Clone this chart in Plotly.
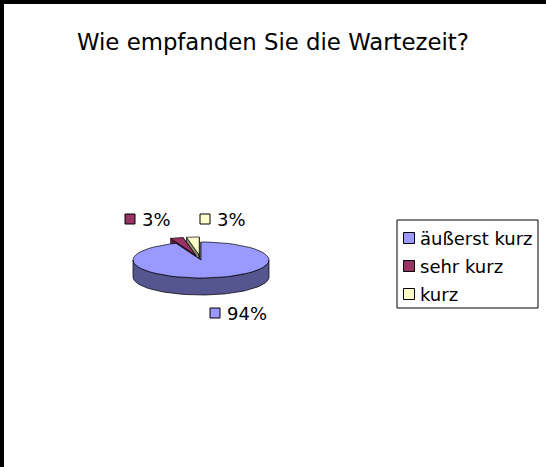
import numpy as np
import plotly.graph_objects as go

# data
categories = ['äußerst kurz', 'sehr kurz', 'kurz']
values = [94, 3, 3]
colors = ['#9999FF', '#993366', '#FFFFCC']
side_colors = ['#55558F', '#5A1E3C', '#8C8C70']
title = 'Wie empfanden Sie die Wartezeit?'

W, H = 546, 467
FRAME = 4  # black frame on the top and left edge
# pie geometry in pixels (axes are mapped 1:1 to the page)
cx, cy = 201, 260
rx, ry = 68, 18
depth = 17
explode = [0, 0.28, 0.28]
label_pos = [(215, 313), (130, 219), (205, 219)]
FONT = 'DejaVu Sans'


def arc(a0, a1, x0, y0, dy=0, n=60):
    # angles in degrees, clockwise from 12 o'clock
    t = np.radians(np.linspace(a0, a1, n))
    return x0 + rx * np.sin(t), y0 - ry * np.cos(t) + dy


def poly(fig, xs, ys, fill):
    fig.add_trace(go.Scatter(
        x=list(xs) + [xs[0]], y=list(ys) + [ys[0]], mode='lines',
        fill='toself', fillcolor=fill,
        line=dict(color='#000000', width=0.7),
        hoverinfo='skip', showlegend=False))


fig = go.Figure()

total = sum(values)
ends = np.cumsum(values) / total * 360
starts = np.concatenate([[0], ends[:-1]])

# small slices first (they sit at the back), then the big one
order = sorted(range(len(values)), key=lambda i: -i)
for i in order:
    a0, a1 = starts[i], ends[i]
    mid = np.radians((a0 + a1) / 2)
    ox = cx + rx * explode[i] * np.sin(mid)
    oy = cy - ry * explode[i] * np.cos(mid)

    # radial side faces
    for a in (a0, a1):
        ex, ey = arc(a, a, ox, oy, n=1)
        poly(fig, [ox, ex[0], ex[0], ox], [oy, ey[0], ey[0] + depth, oy + depth], side_colors[i])

    # outer wall, front half only
    f0, f1 = max(a0, 90), min(a1, 270)
    if f1 > f0:
        tx, ty = arc(f0, f1, ox, oy)
        bx, by = arc(f1, f0, ox, oy, dy=depth)
        poly(fig, np.concatenate([tx, bx]), np.concatenate([ty, by]), side_colors[i])

    # top face
    tx, ty = arc(a0, a1, ox, oy)
    poly(fig, np.concatenate([[ox], tx]), np.concatenate([[oy], ty]), colors[i])

# data labels
for i, v in enumerate(values):
    lx, ly = label_pos[i]
    fig.add_trace(go.Scatter(
        x=[lx], y=[ly], mode='markers',
        marker=dict(symbol='square', size=10, color=colors[i],
                    line=dict(color='#000000', width=1)),
        hoverinfo='skip', showlegend=False))
    fig.add_annotation(x=lx + 10, y=ly, text=f'{v:.0f}%', showarrow=False,
                       xanchor='left', yanchor='middle',
                       font=dict(family=FONT, size=18, color='#000000'))

# legend drawn by hand to get the Excel look
leg_x, leg_y0, leg_dy = 409, 238, 28
fig.add_shape(type='rect', x0=397, x1=538, y0=220, y1=308,
              line=dict(color='#000000', width=1), fillcolor='rgba(0,0,0,0)')
for i, name in enumerate(categories):
    y = leg_y0 + i * leg_dy
    fig.add_trace(go.Scatter(
        x=[leg_x], y=[y], mode='markers',
        marker=dict(symbol='square', size=11, color=colors[i],
                    line=dict(color='#000000', width=1)),
        hoverinfo='skip', showlegend=False))
    fig.add_annotation(x=leg_x + 9, y=y, text=name, showarrow=False,
                       xanchor='left', yanchor='middle',
                       font=dict(family=FONT, size=18, color='#000000'))

fig.add_annotation(x=W / 2, y=42, text=title, showarrow=False,
                   xanchor='center', yanchor='middle',
                   font=dict(family=FONT, size=22.8, color='#000000'))

# the black paper shows through the top/left margin as the frame
fig.update_layout(
    width=W, height=H,
    margin=dict(l=FRAME, r=0, t=FRAME, b=0, pad=0),
    paper_bgcolor='#000000', plot_bgcolor='#FFFFFF',
    showlegend=False,
    xaxis=dict(range=[FRAME, W], visible=False, fixedrange=True),
    yaxis=dict(range=[H, FRAME], visible=False, fixedrange=True),
)

# drop the default page margin so the chart sits at the window corner
fig.write_html('out.html', config={'displayModeBar': False},
               post_script="document.body.style.margin='0';")
